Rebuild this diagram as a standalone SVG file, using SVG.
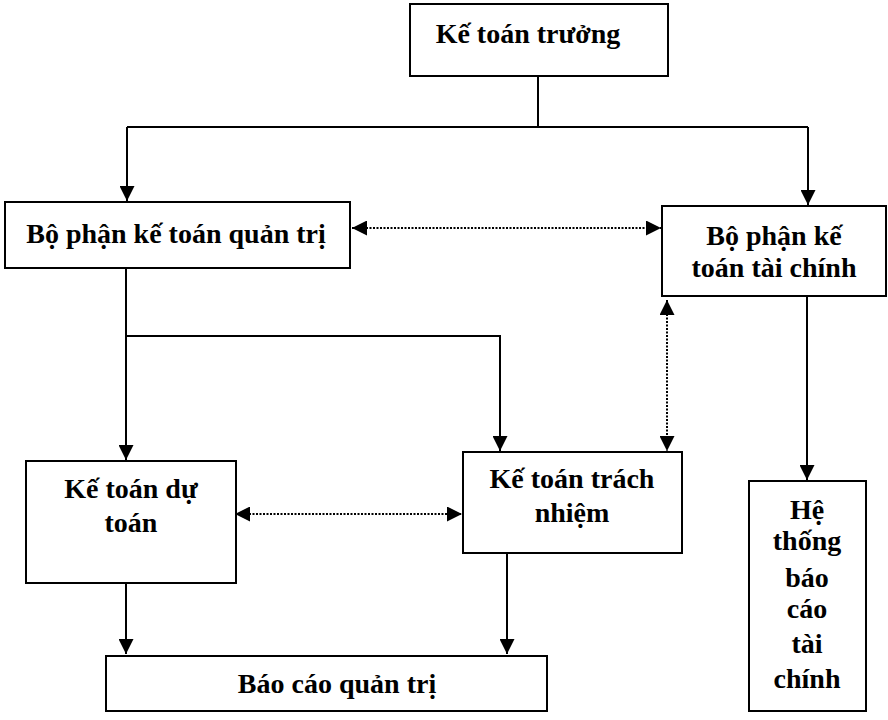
<svg xmlns="http://www.w3.org/2000/svg" width="888" height="720" viewBox="0 0 888 720">
<style>
.box{fill:#fff;stroke:#000;stroke-width:2}
.t{font-family:"Liberation Serif","Times New Roman",serif;font-weight:bold;font-size:28px;fill:#000;text-anchor:middle}
.ln{fill:none;stroke:#000;stroke-width:2}
.dt{fill:none;stroke:#000;stroke-width:2;stroke-dasharray:2,1.5}
</style>
<defs>
<marker id="ah" viewBox="0 0 10 10" refX="10" refY="5" markerWidth="15" markerHeight="15" markerUnits="userSpaceOnUse" orient="auto-start-reverse">
<path d="M0,0 L10,5 L0,10 z" fill="#000"/>
</marker>
</defs>
<rect width="888" height="720" fill="#fff"/>
<g id="connectors">
<path class="ln" d="M538,76 V127"/>
<path class="ln" d="M127,127 H808"/>
<path class="ln" d="M127,127 V201" marker-end="url(#ah)"/>
<path class="ln" d="M808,127 V205" marker-end="url(#ah)"/>
<path class="dt" d="M352,228 H661" marker-start="url(#ah)" marker-end="url(#ah)"/>
<path class="ln" d="M126,268 V460" marker-end="url(#ah)"/>
<path class="ln" d="M126,336 H500 V451" marker-end="url(#ah)"/>
<path class="dt" d="M667,300 V451" marker-start="url(#ah)" marker-end="url(#ah)"/>
<path class="dt" d="M235,514 H462" marker-start="url(#ah)" marker-end="url(#ah)"/>
<path class="ln" d="M807,296 V480" marker-end="url(#ah)"/>
<path class="ln" d="M126,583 V654" marker-end="url(#ah)"/>
<path class="ln" d="M507,553 V654" marker-end="url(#ah)"/>
</g>
<g id="ke-toan-truong">
<rect class="box" x="410" y="4" width="258" height="72"/>
<text class="t" x="528" y="43">Kế toán trưởng</text>
</g>
<g id="bo-phan-ktqt">
<rect class="box" x="5" y="202" width="345" height="66"/>
<text class="t" x="176" y="243">Bộ phận kế toán quản trị</text>
</g>
<g id="bo-phan-kttc">
<rect class="box" x="662" y="206" width="224" height="90"/>
<text class="t" x="774" y="245">Bộ phận kế</text>
<text class="t" x="774" y="277">toán tài chính</text>
</g>
<g id="ke-toan-du-toan">
<rect class="box" x="26" y="461" width="210" height="122"/>
<text class="t" x="131" y="498">Kế toán dự</text>
<text class="t" x="131" y="532">toán</text>
</g>
<g id="ke-toan-trach-nhiem">
<rect class="box" x="463" y="452" width="219" height="101"/>
<text class="t" x="572" y="488">Kế toán trách</text>
<text class="t" x="572" y="522">nhiệm</text>
</g>
<g id="bao-cao-quan-tri">
<rect class="box" x="106" y="656" width="441" height="55"/>
<text class="t" x="337" y="693">Báo cáo quản trị</text>
</g>
<g id="he-thong-bctc">
<rect class="box" x="749" y="481" width="117" height="230"/>
<text class="t" x="807" y="519">Hệ</text>
<text class="t" x="807" y="550">thống</text>
<text class="t" x="807" y="587">báo</text>
<text class="t" x="807" y="618">cáo</text>
<text class="t" x="807" y="653">tài</text>
<text class="t" x="807" y="688">chính</text>
</g>
</svg>
